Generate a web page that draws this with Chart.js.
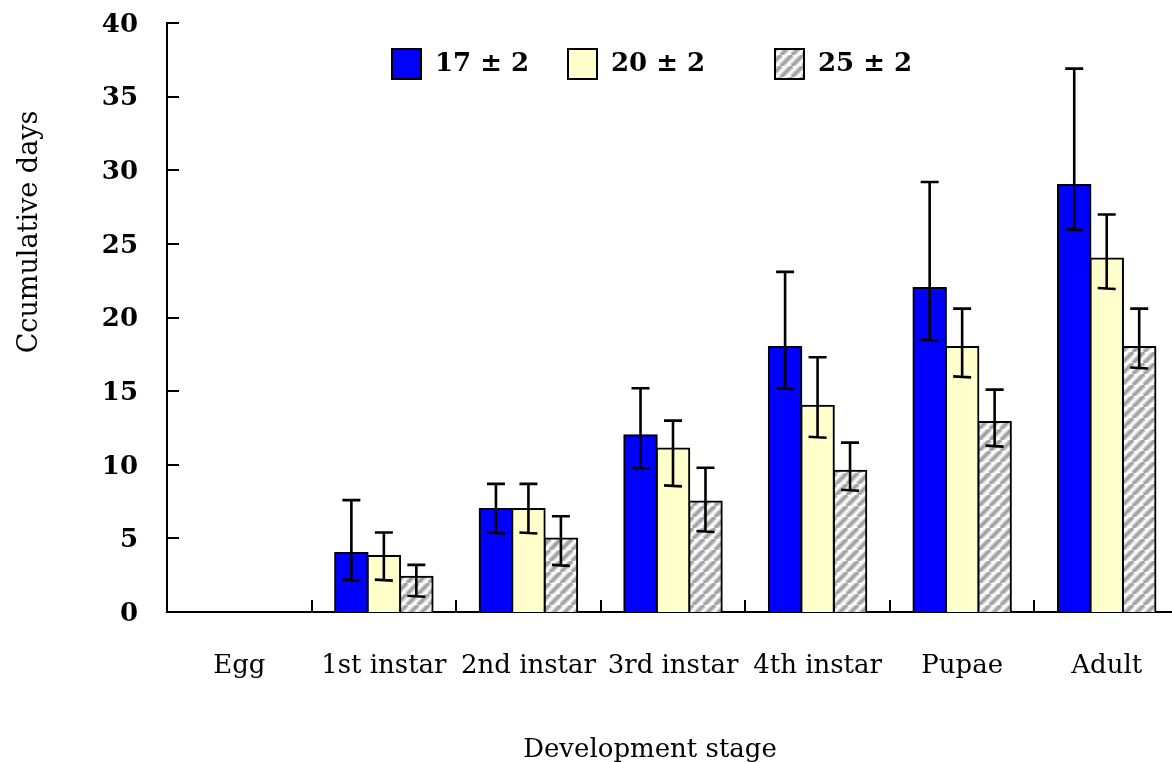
<!DOCTYPE html>
<html><head><meta charset="utf-8">
<style>html,body{margin:0;padding:0;background:#fff;overflow:hidden;}#wrap{width:1180px;height:762px;position:relative;}</style>
<script src="https://cdn.jsdelivr.net/npm/chart.js@4/dist/chart.umd.min.js"></script>
</head><body><div id="wrap"><canvas id="c" width="1180" height="762"></canvas></div>
<script>
// ---- data ----
const categories = ['Egg', '1st instar', '2nd instar', '3rd instar', '4th instar', 'Pupae', 'Adult'];
const seriesLabels = ['17 ± 2', '20 ± 2', '25 ± 2'];
const t17 = [0, 4, 7, 12, 18, 22, 29];
const t17Hi = [null, 7.6, 8.7, 15.2, 23.1, 29.2, 36.9];
const t17Lo = [null, 2.2, 5.4, 9.8, 15.2, 18.5, 26.0];
const t20 = [0, 3.8, 7, 11.1, 14, 18, 24];
const t20Hi = [null, 5.4, 8.7, 13.0, 17.3, 20.6, 27.0];
const t20Lo = [null, 2.2, 5.4, 8.6, 11.9, 16.0, 22.0];
const t25 = [0, 2.4, 5, 7.5, 9.6, 12.9, 18];
const t25Hi = [null, 3.2, 6.5, 9.8, 11.5, 15.1, 20.6];
const t25Lo = [null, 1.1, 3.2, 5.5, 8.3, 11.3, 16.6];
const yMin = 0, yMax = 40, yStep = 5;
const xTitle = 'Development stage';
const yTitle = 'Ccumulative days';

const ctx = document.getElementById('c').getContext('2d');

// ---- hatch pattern ----
function hatchTile() {
  const n = 11;
  const c = document.createElement('canvas');
  c.width = n; c.height = n;
  const g = c.getContext('2d');
  g.fillStyle = '#ffffff'; g.fillRect(0, 0, n, n);
  const offs = [-n, 0, n];
  for (const o of offs) {
    g.strokeStyle = '#d6d6d6'; g.lineWidth = 6;
    g.beginPath(); g.moveTo(o, n); g.lineTo(o + n, 0); g.stroke();
  }
  for (const o of offs) {
    g.strokeStyle = '#a2a2a2'; g.lineWidth = 3;
    g.beginPath(); g.moveTo(o, n); g.lineTo(o + n, 0); g.stroke();
  }
  return c;
}
const hatch = ctx.createPattern(hatchTile(), 'repeat');

const fills = ['#0000ff', '#ffffcc', hatch];
const errHi = [t17Hi, t20Hi, t25Hi];
const errLo = [t17Lo, t20Lo, t25Lo];

const errorBars = {
  id: 'errorBars',
  afterDatasetsDraw(chart) {
    const c = chart.ctx, ys = chart.scales.y;
    c.save();
    c.strokeStyle = '#000'; c.lineWidth = 2.6; c.lineCap = 'butt';
    chart.data.datasets.forEach((ds, d) => {
      const meta = chart.getDatasetMeta(d);
      meta.data.forEach((bar, i) => {
        const hi = errHi[d][i], lo = errLo[d][i];
        if (hi == null || lo == null) return;
        const x = bar.x, yh = ys.getPixelForValue(hi), yl = ys.getPixelForValue(lo);
        c.beginPath();
        c.moveTo(x, yh); c.lineTo(x, yl);
        c.moveTo(x - 9, yh); c.lineTo(x + 9, yh);
        c.moveTo(x - 9, yl); c.lineTo(x + 9, yl + 1);
        c.stroke();
      });
    });
    c.restore();
  }
};

const decor = {
  id: 'decor',
  afterDraw(chart) {
    const c = chart.ctx, xs = chart.scales.x, ys = chart.scales.y, a = chart.chartArea;
    c.save();
    c.strokeStyle = '#000'; c.lineWidth = 2;
    // y ticks (inside)
    for (let v = yMin + yStep; v <= yMax; v += yStep) {
      const py = Math.round(ys.getPixelForValue(v));
      c.beginPath(); c.moveTo(a.left, py); c.lineTo(a.left + 12, py); c.stroke();
    }
    // x ticks (inside, between categories)
    for (let i = 1; i < categories.length; i++) {
      const px = Math.round((xs.getPixelForValue(i - 1) + xs.getPixelForValue(i)) / 2);
      c.beginPath(); c.moveTo(px, a.bottom); c.lineTo(px, a.bottom - 12); c.stroke();
    }
    // legend
    const boxX = [392, 568, 775];
    chart.data.datasets.forEach((ds, d) => {
      c.fillStyle = ds.backgroundColor;
      c.fillRect(boxX[d], 49, 29, 30);
      c.lineWidth = 2; c.strokeStyle = '#000';
      c.strokeRect(boxX[d], 49, 29, 30);
      c.fillStyle = '#000';
      c.font = 'bold 26px "DejaVu Serif"';
      c.textAlign = 'left'; c.textBaseline = 'alphabetic';
      c.fillText(ds.label, boxX[d] + 43, 71);
    });
    // axis titles
    c.fillStyle = '#000';
    c.font = '26px "DejaVu Serif"';
    c.textAlign = 'center'; c.textBaseline = 'alphabetic';
    c.fillText(xTitle, 650, 757);
    c.font = '27px "DejaVu Serif"';
    c.translate(37, 232); c.rotate(-Math.PI / 2);
    c.fillText(yTitle, 0, 0);
    c.restore();
  }
};

new Chart(ctx, {
  type: 'bar',
  data: {
    labels: categories,
    datasets: [t17, t20, t25].map((vals, d) => ({
      label: seriesLabels[d],
      data: vals,
      backgroundColor: fills[d],
      borderColor: '#000',
      borderWidth: 2,
      inflateAmount: 1,
      categoryPercentage: 0.674,
      barPercentage: 1.0
    }))
  },
  options: {
    responsive: false,
    devicePixelRatio: 1,
    animation: false,
    layout: { padding: { top: 23, right: 1, left: 0, bottom: 0 } },
    plugins: { legend: { display: false }, tooltip: { enabled: false } },
    scales: {
      x: {
        type: 'category',
        grid: { display: false, drawTicks: false },
        border: { display: true, color: '#000', width: 2 },
        ticks: { color: '#000', font: { family: 'DejaVu Serif', size: 26 }, padding: 39, maxRotation: 0, autoSkip: false },
        afterFit(s) { s.height = 150; s.paddingLeft = 0; s.paddingRight = 0; }
      },
      y: {
        min: yMin, max: yMax,
        grid: { display: false, drawTicks: false },
        border: { display: true, color: '#000', width: 2 },
        ticks: { stepSize: yStep, color: '#000', font: { family: 'DejaVu Serif', size: 26, weight: 'bold' }, padding: 29, labelOffset: 2 },
        afterFit(s) { s.width = 167; s.paddingTop = 0; s.paddingBottom = 0; }
      }
    }
  },
  plugins: [errorBars, decor]
});
</script></body></html>
